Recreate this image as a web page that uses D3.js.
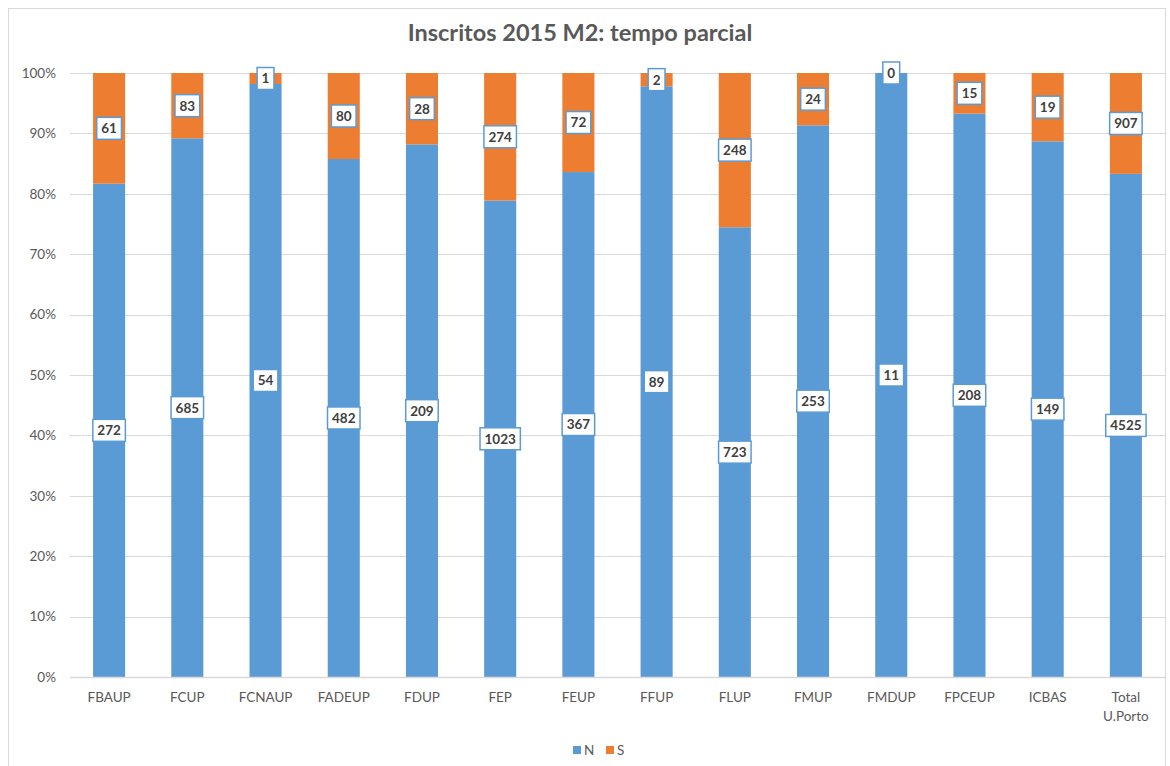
<!DOCTYPE html>
<html lang="pt">
<head>
	<meta charset="utf-8">
	<title>Inscritos 2015 M2: tempo parcial</title>
	<script src="https://d3js.org/d3.v7.min.js" charset="utf-8"></script>
	<style>
	body { margin: 0; background: #fff; }
	text { font-family: Lato, "Open Sans", sans-serif; }
	.tick text { fill: #595959; font-size: 13.5px; }
	.lbl { fill: #404040; font-size: 13.5px; font-weight: bold; }
	</style>
</head>
<body>
	<script>
	var categories = ["FBAUP", "FCUP", "FCNAUP", "FADEUP", "FDUP", "FEP", "FEUP", "FFUP",
		"FLUP", "FMUP", "FMDUP", "FPCEUP", "ICBAS", "Total U.Porto"];
	var valuesN = [272, 685, 54, 482, 209, 1023, 367, 89, 723, 253, 11, 208, 149, 4525];
	var valuesS = [61, 83, 1, 80, 28, 274, 72, 2, 248, 24, 0, 15, 19, 907];
	var yTicks = [0, 0.1, 0.2, 0.3, 0.4, 0.5, 0.6, 0.7, 0.8, 0.9, 1];

	var width = 1170;
	var height = 766;
	var colors = { N: "#5B9BD5", S: "#ED7D31" };

	var svg = d3.select('body')
	.append('svg')
	.attr('width', width)
	.attr('height', height);

	// chart frame
	svg.append('rect')
	.attr('x', 8.5).attr('y', 8.5)
	.attr('width', 1157).attr('height', 790)
	.attr('fill', 'none')
	.attr('stroke', '#D9D9D9');

	var x = d3.scaleBand()
	.domain(categories)
	.range([70, 1165])
	.paddingInner(0.59)
	.paddingOuter(0.295);

	var y = d3.scaleLinear()
	.domain([0, 1])
	.range([677, 73]);

	var rows = categories.map(function (c, i) {
		return { cat: c, N: valuesN[i], S: valuesS[i] };
	});
	var stack = d3.stack().keys(["N", "S"]).offset(d3.stackOffsetExpand);
	var series = stack(rows);

	// gridlines
	svg.append('g')
	.selectAll('line')
	.data(yTicks)
	.enter()
	.append('line')
	.attr('x1', 70).attr('x2', 1165)
	.attr('y1', function (d) { return Math.round(y(d)) + 0.5; })
	.attr('y2', function (d) { return Math.round(y(d)) + 0.5; })
	.attr('stroke', '#D9D9D9');

	// y axis labels
	var yAxis = svg.append('g')
	.attr('transform', 'translate(62,0)')
	.call(d3.axisLeft(y).tickValues(yTicks).tickFormat(d3.format('.0%')).tickSize(0).tickPadding(6));
	yAxis.select('.domain').remove();

	// bars
	var layers = svg.append('g')
	.selectAll('g')
	.data(series)
	.enter()
	.append('g')
	.attr('fill', function (d) { return colors[d.key]; });

	layers.selectAll('rect')
	.data(function (d) { return d; })
	.enter()
	.append('rect')
	.attr('x', function (d) { return x(d.data.cat); })
	.attr('width', x.bandwidth())
	.attr('y', function (d) { return y(d[1]); })
	.attr('height', function (d) { return y(d[0]) - y(d[1]); });

	// x axis line
	svg.append('line')
	.attr('x1', 70).attr('x2', 1165)
	.attr('y1', 677.5).attr('y2', 677.5)
	.attr('stroke', '#D9D9D9')
	.attr('stroke-width', 1.5);

	// x axis labels
	var xAxis = svg.append('g')
	.attr('transform', 'translate(0,677)')
	.call(d3.axisBottom(x).tickSize(0).tickPadding(15));
	xAxis.select('.domain').remove();
	xAxis.selectAll('.tick text')
	.each(function (d) {
		var t = d3.select(this);
		var words = d.split(' ');
		if (words.length > 1) {
			t.text(null);
			words.forEach(function (w, i) {
				t.append('tspan').attr('x', 0).attr('dy', i === 0 ? '0.71em' : '1.45em').text(w);
			});
			t.attr('dy', null);
		}
	});

	// data labels
	series.forEach(function (s) {
		s.forEach(function (d) {
			var cx = x(d.data.cat) + x.bandwidth() / 2;
			var cy = (y(d[0]) + y(d[1])) / 2;
			var g = svg.append('g').attr('transform', 'translate(' + cx + ',' + cy + ')');
			var txt = g.append('text')
			.attr('class', 'lbl')
			.attr('text-anchor', 'middle')
			.attr('dy', '0.36em')
			.text(d.data[s.key]);
			var w = txt.node().getComputedTextLength() + 9;
			g.insert('rect', 'text')
			.attr('x', -w / 2).attr('y', -11)
			.attr('width', w).attr('height', 22)
			.attr('fill', '#fff')
			.attr('stroke', '#5B9BD5')
			.attr('stroke-width', 1.5);
		});
	});

	// title
	svg.append('text')
	.attr('x', 580).attr('y', 41)
	.attr('text-anchor', 'middle')
	.attr('fill', '#595959')
	.attr('font-size', '23.5px')
	.attr('font-weight', 'bold')
	.text('Inscritos 2015 M2: tempo parcial');

	// legend
	var legend = svg.append('g')
	.selectAll('g')
	.data(["N", "S"])
	.enter()
	.append('g')
	.attr('transform', function (d, i) { return 'translate(' + (573 + i * 33) + ',746)'; });
	legend.append('rect')
	.attr('width', 8).attr('height', 8)
	.attr('fill', function (d) { return colors[d]; });
	legend.append('text')
	.attr('x', 11).attr('y', 8.5)
	.attr('fill', '#595959')
	.attr('font-size', '13.5px')
	.text(function (d) { return d; });
	</script>
</body>
</html>
